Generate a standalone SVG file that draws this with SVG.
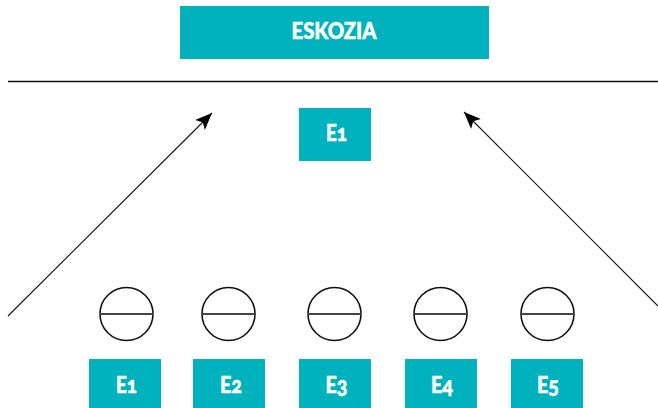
<svg xmlns="http://www.w3.org/2000/svg" width="658" height="408" viewBox="0 0 658 408">
<style>
.box{fill:#00b2bd}
.t{font-family:"Lato","Open Sans","Liberation Sans",sans-serif;font-weight:900;font-size:23px;fill:#fff;text-anchor:middle;font-variant-numeric:oldstyle-nums;font-feature-settings:"onum";stroke:#fff;stroke-width:.5}
.c{fill:none;stroke:#111;stroke-width:1.6}
.d{stroke:#444;stroke-width:1.8}
.l{stroke:#111;stroke-width:1.1;fill:none}
</style>
<defs><marker id="a" markerUnits="userSpaceOnUse" markerWidth="18" markerHeight="14" refX="17" refY="7" orient="auto"><path d="M0 0L17 7L0 14L4 7Z" fill="#000"/></marker></defs>
<rect width="658" height="408" fill="#fff"/>
<g id="connectors">
<path class="l" style="stroke-width:1.5" d="M8 81.500H658"/>
<path class="l" d="M8 316L212 113" marker-end="url(#a)"/>
<path class="l" d="M658 306L464 112" marker-end="url(#a)"/>
</g>
<g id="eskozia"><rect class="box" x="180" y="6" width="309" height="53"/><text class="t" x="334" y="39" textLength="85" lengthAdjust="spacingAndGlyphs">ESKOZIA</text></g>
<g id="top-e1"><rect class="box" x="299" y="108" width="72" height="53"/><text class="t" x="336.500" y="141" textLength="21" lengthAdjust="spacingAndGlyphs">E1</text></g>
<g id="c1"><circle class="c" cx="126.500" cy="314" r="26.500"/><path class="d" d="M100 314H153"/></g>
<g id="c2"><circle class="c" cx="228.500" cy="314" r="26.500"/><path class="d" d="M202 314H255"/></g>
<g id="c3"><circle class="c" cx="334.500" cy="314" r="26.500"/><path class="d" d="M308 314H361"/></g>
<g id="c4"><circle class="c" cx="440.500" cy="314" r="26.500"/><path class="d" d="M414 314H467"/></g>
<g id="c5"><circle class="c" cx="547.500" cy="314" r="26.500"/><path class="d" d="M521 314H574"/></g>
<g id="e1"><rect class="box" x="89" y="359" width="72" height="49"/><text class="t" x="126.500" y="393" textLength="21" lengthAdjust="spacingAndGlyphs">E1</text></g>
<g id="e2"><rect class="box" x="193" y="359" width="72" height="49"/><text class="t" x="231" y="393" textLength="22" lengthAdjust="spacingAndGlyphs">E2</text></g>
<g id="e3"><rect class="box" x="299" y="359" width="72" height="49"/><text class="t" x="336.500" y="393" textLength="22" lengthAdjust="spacingAndGlyphs">E3</text></g>
<g id="e4"><rect class="box" x="405" y="359" width="72" height="49"/><text class="t" x="442" y="393" textLength="22" lengthAdjust="spacingAndGlyphs">E4</text></g>
<g id="e5"><rect class="box" x="511" y="359" width="72" height="49"/><text class="t" x="548" y="393" textLength="22" lengthAdjust="spacingAndGlyphs">E5</text></g>
</svg>
